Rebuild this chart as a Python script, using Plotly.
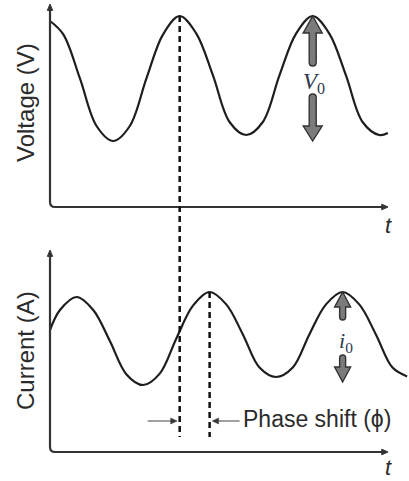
import plotly.graph_objects as go

# ---- data -------------------------------------------------------------
# time in ms, voltage in V, current in A
t_v = [0, 2, 4.5, 7, 9.5, 12, 14.5, 17, 19.5, 22, 24.5, 27, 29.5,
       32, 34.5, 37, 39.5, 42, 44.5, 47, 49.5, 50.8]
voltage = [9.30, 8.63, 6.43, 4.05, 3.30, 4.05, 6.43, 8.63, 9.55, 8.67, 6.58,
           4.25, 3.60, 4.25, 6.58, 8.67, 9.55, 8.67, 6.58, 4.25, 3.60, 3.70]

t_i = [0, 1.5, 4, 6.5, 9, 11.5, 14, 16.5, 19, 21.5, 24, 26.5, 29, 31.5,
       34, 36.5, 39, 41.5, 44, 46.5, 49, 51.5, 53.7]
current = [6.10, 7.10, 7.75, 7.10, 5.55, 3.88, 3.35, 3.92, 5.68, 7.32, 8.00,
           7.38, 5.88, 4.22, 3.75, 4.22, 5.88, 7.38, 8.00, 7.38, 5.88, 4.22, 3.78]

axis_labels = ["Voltage (V)", "Current (A)"]
time_label = "t"
phase_label = "Phase shift (\u03d5)"

# ---- geometry of the two panels ---------------------------------------
W, H = 409, 481
x_dom = [30 / W, 1.0]
x_rng = [-3.008, 53.98]
top_dom = [1 - 217 / H, 1.0]
top_rng = [-0.5, 10.35]
bot_dom = [1 - 462 / H, 1 - 240 / H]
bot_rng = [-0.5, 10.6]
t_end = 50.83          # end of the time axis
y_axis_top = [10.15, 10.1]

INK = "#2b2b2b"
SANS = "Liberation Sans, Arial, sans-serif"
SERIF = "Liberation Serif, Times New Roman, serif"


def to_paper(val, dom, rng):
    return dom[0] + (val - rng[0]) / (rng[1] - rng[0]) * (dom[1] - dom[0])


fig = go.Figure()
fig.add_trace(go.Scatter(x=t_v, y=voltage, mode="lines", xaxis="x", yaxis="y",
                         line=dict(color="#1e1e1e", width=2.2, shape="spline", smoothing=1),
                         hoverinfo="skip"))
fig.add_trace(go.Scatter(x=t_i, y=current, mode="lines", xaxis="x2", yaxis="y2",
                         line=dict(color="#1e1e1e", width=2.2, shape="spline", smoothing=1),
                         hoverinfo="skip"))

shapes = []
annotations = []

# L-shaped axes with rounded corner and arrow tips
for k, (xr, yr) in enumerate([("x", "y"), ("x2", "y2")]):
    ytop = y_axis_top[k]
    shapes.append(dict(type="path", xref=xr, yref=yr,
                       path=f"M 0,{ytop - 0.2} L 0,0.25 Q 0,0 0.75,0 L {t_end - 0.6},0",
                       line=dict(color="#333333", width=2.2)))
    # arrow tip on the vertical axis
    shapes.append(dict(type="path", xref=xr, yref=yr,
                       path=f"M 0,{ytop} L 0.4,{ytop - 0.32} L -0.4,{ytop - 0.32} Z",
                       fillcolor="#333333", line=dict(color="#333333", width=1)))
    # arrow tip on the time axis
    shapes.append(dict(type="path", xref=xr, yref=yr,
                       path=f"M {t_end},0 L {t_end - 0.95},0.14 L {t_end - 0.95},-0.14 Z",
                       fillcolor="#333333", line=dict(color="#333333", width=1)))
    annotations.append(dict(x=t_end, y=0, xref=xr, yref=yr, yshift=-18 + 3 * k,
                            text=f"<i>{time_label}</i>", showarrow=False,
                            font=dict(family=SANS, size=22, color=INK)))

# peaks used for the phase markers
v_peak = max(voltage)
tv_peak = t_v[voltage.index(v_peak)]
i_peak = max(current)
ti_peak = t_i[current.index(i_peak)]
dash_bottom = 0.75

shapes.append(dict(type="line", xref="x", yref="paper",
                   x0=tv_peak, x1=tv_peak,
                   y0=to_paper(v_peak, top_dom, top_rng),
                   y1=to_paper(dash_bottom, bot_dom, bot_rng),
                   line=dict(color="#111111", width=2.5, dash="6px,4px")))
shapes.append(dict(type="line", xref="x2", yref="y2",
                   x0=ti_peak, x1=ti_peak, y0=i_peak, y1=dash_bottom,
                   line=dict(color="#111111", width=2.5, dash="6px,4px")))

# phase shift arrows (pixel sized, anchored on the dashed lines) and label
phase_y = 1.55
for x_anchor, sign, length in ((tv_peak, -1, 32), (ti_peak, 1, 30)):
    shapes.append(dict(type="line", xref="x2", yref="y2",
                       xsizemode="pixel", ysizemode="pixel",
                       xanchor=x_anchor, yanchor=phase_y,
                       x0=sign * length, x1=sign * 8, y0=0, y1=0,
                       line=dict(color="#8a8a8a", width=1.6)))
    shapes.append(dict(type="path", xref="x2", yref="y2",
                       xsizemode="pixel", ysizemode="pixel",
                       xanchor=x_anchor, yanchor=phase_y,
                       path=f"M {sign * 2.5},0 L {sign * 9},3 L {sign * 9},-3 Z",
                       fillcolor="#3a3a3a", line=dict(color="#3a3a3a", width=0.5)))
annotations.append(dict(x=ti_peak, y=phase_y, xref="x2", yref="y2", xshift=31, yshift=2,
                        xanchor="left", text=phase_label, showarrow=False,
                        font=dict(family=SANS, size=23, color=INK)))


def fat_arrows(xr, yr, x, y, hw, sw, up_head, up_end, dn_start, dn_head, dn_tip):
    """Pair of thick grey arrows (pixel sized) anchored at a peak."""
    up = (f"M 0,0 L {hw},{-up_head} L {sw},{-up_head} L {sw},{-up_end + sw} "
          f"Q {sw},{-up_end} 0,{-up_end} Q {-sw},{-up_end} {-sw},{-up_end + sw} "
          f"L {-sw},{-up_head} L {-hw},{-up_head} Z")
    dn = (f"M 0,{-dn_tip} L {hw},{-dn_head} L {sw},{-dn_head} L {sw},{-dn_start - sw} "
          f"Q {sw},{-dn_start} 0,{-dn_start} Q {-sw},{-dn_start} {-sw},{-dn_start - sw} "
          f"L {-sw},{-dn_head} L {-hw},{-dn_head} Z")
    out = []
    for p in (up, dn):
        out.append(dict(type="path", xref=xr, yref=yr, xsizemode="pixel", ysizemode="pixel",
                        xanchor=x, yanchor=y, path=p, fillcolor="#7b7b7b",
                        line=dict(color="#333333", width=1.4)))
    return out


# amplitude markers on the last peaks
tv_last = t_v[len(t_v) - 1 - voltage[::-1].index(v_peak)]
ti_last = t_i[len(t_i) - 1 - current[::-1].index(i_peak)]
shapes += fat_arrows("x", "y", tv_last, v_peak, 9.5, 3.5, 17, 50, 78, 110, 125)
shapes += fat_arrows("x2", "y2", ti_last, i_peak, 8, 3, 15, 28, 63, 75, 90)

annotations.append(dict(x=tv_last, y=v_peak, xref="x", yref="y", yshift=-67, xshift=1,
                        text="<i>V</i><sub>0</sub>", showarrow=False,
                        font=dict(family=SERIF, size=23, color="#2f3a50")))
annotations.append(dict(x=ti_last, y=i_peak, xref="x2", yref="y2", yshift=-50, xshift=3,
                        text="<i>i</i><sub>0</sub>", showarrow=False,
                        font=dict(family=SERIF, size=22, color="#2f3a50")))

# vertical axis titles
annotations.append(dict(x=25 / W, y=1 - 103 / H, xref="paper", yref="paper",
                        xanchor="center", yanchor="middle",
                        text=axis_labels[0], textangle=-90, showarrow=False,
                        font=dict(family=SANS, size=24, color=INK)))
annotations.append(dict(x=25 / W, y=1 - 351 / H, xref="paper", yref="paper",
                        xanchor="center", yanchor="middle",
                        text=axis_labels[1], textangle=-90, showarrow=False,
                        font=dict(family=SANS, size=24, color=INK)))

hidden = dict(visible=False, showgrid=False, zeroline=False, fixedrange=True)
fig.update_layout(
    width=W, height=H, margin=dict(l=0, r=0, t=0, b=0),
    paper_bgcolor="white", plot_bgcolor="white", showlegend=False,
    xaxis=dict(domain=x_dom, range=x_rng, anchor="y", **hidden),
    yaxis=dict(domain=top_dom, range=top_rng, anchor="x", **hidden),
    xaxis2=dict(domain=x_dom, range=x_rng, anchor="y2", **hidden),
    yaxis2=dict(domain=bot_dom, range=bot_rng, anchor="x2", **hidden),
    shapes=shapes, annotations=annotations,
)

fig.write_html("out.html")
